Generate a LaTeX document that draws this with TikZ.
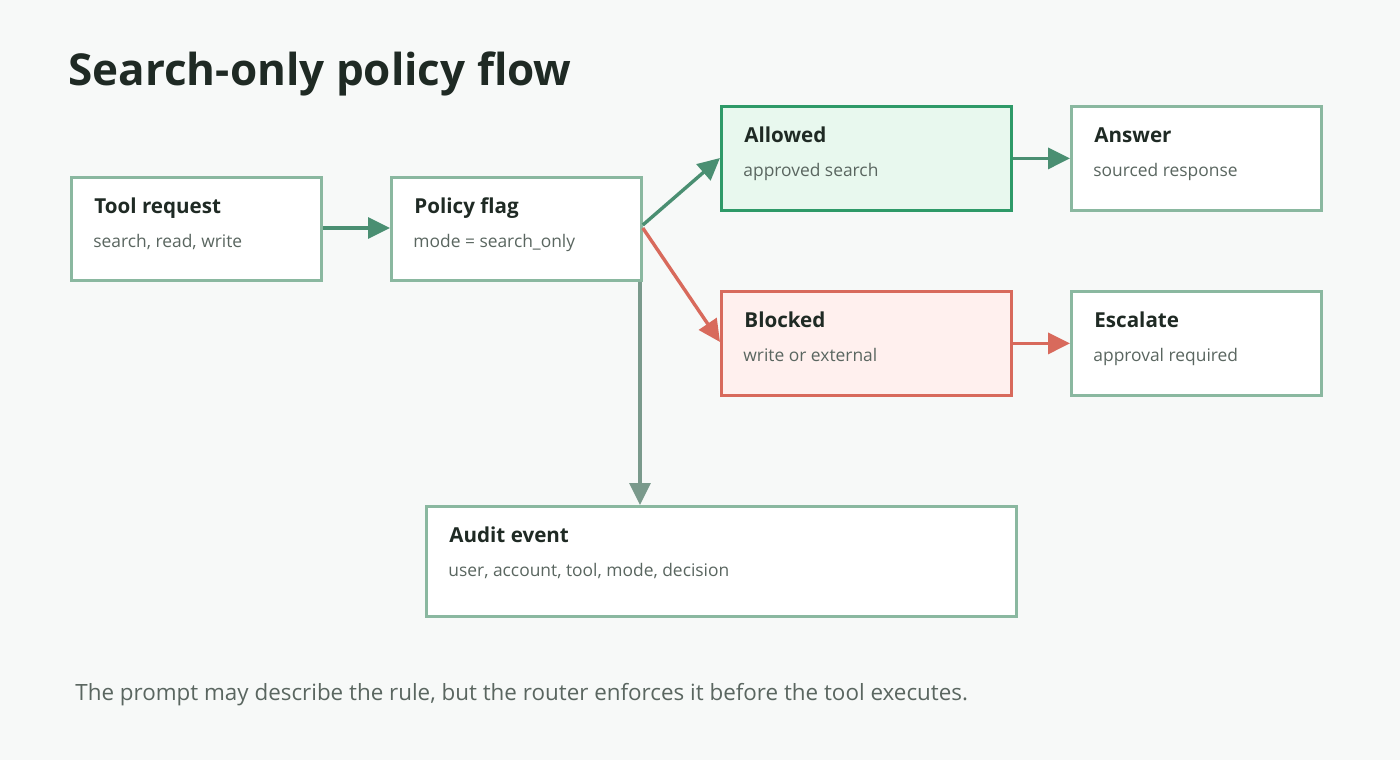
\documentclass[tikz,border=0pt]{standalone}
\usepackage{fontspec}
\setmainfont{Open Sans}
\usetikzlibrary{positioning,arrows.meta}
\definecolor{bgcol}{HTML}{F7F9F8}
\definecolor{boxline}{HTML}{8AB8A0}
\definecolor{okline}{HTML}{2E9A68}
\definecolor{okfill}{HTML}{E8F8EE}
\definecolor{noline}{HTML}{D86A5C}
\definecolor{nofill}{HTML}{FFF0EE}
\definecolor{arrgreen}{HTML}{4A8F72}
\definecolor{arrgray}{HTML}{7A9A8C}
\definecolor{ink}{HTML}{1F2A24}
\definecolor{subink}{HTML}{5A6660}
\tikzset{
  box/.style={draw=boxline, fill=white, line width=1.4pt, anchor=north west,
    minimum width=125pt, minimum height=51.5pt, inner sep=0pt},
  ttl/.style={anchor=base west, font=\bfseries\fontsize{10.3}{12}\selectfont, text=ink, inner sep=0pt},
  sub/.style={anchor=base west, font=\fontsize{8.7}{10}\selectfont, text=subink, inner sep=0pt},
  flow/.style={line width=1.7pt, -{Triangle[length=11pt,width=10.5pt]}}
}
\begin{document}
\begin{tikzpicture}[x=0.5pt,y=-0.5pt]
\fill[bgcol] (0,0) rectangle (1400,760);
\useasboundingbox (0,0) rectangle (1400,760);
\node[anchor=base west, font=\bfseries\fontsize{22}{26}\selectfont, text=ink, inner sep=0pt] (title) at (68,85) {Search-only policy flow};
% boxes
\node[box] (req) at (70,176) {};
\node[box] (flag) at (390,176) {};
\node[box, draw=okline, fill=okfill, minimum width=145pt, minimum height=52pt] (ok) at (720,105) {};
\node[box, minimum height=52pt] (ans) at (1070,105) {};
\node[box, draw=noline, fill=nofill, minimum width=145pt, minimum height=52pt] (no) at (720,290) {};
\node[box, minimum height=52pt] (esc) at (1070,290) {};
\node[box, minimum width=295pt, minimum height=55pt] (audit) at (425,505) {};
% texts
\foreach \b/\t/\s in {req/Tool request/{search, read, write},
  flag/Policy flag/{mode = search\_only},
  ok/Allowed/approved search, ans/Answer/sourced response,
  no/Blocked/write or external, esc/Escalate/approval required,
  audit/Audit event/{user, account, tool, mode, decision}}{
  \node[ttl] (\b-t) at ([shift={(24,37)}]\b.north west) {\t};
  \node[sub] (\b-s) at ([shift={(23,71)}]\b.north west) {\s};
}
% connectors
\draw[flow, arrgreen] (req.east |- 0,228) -- (flag.west |- 0,228);
\draw[flow, arrgreen] (flag.east |- 0,225) -- (ok.west |- 0,158);
\draw[flow, noline] (flag.east |- 0,228) -- (no.west |- 0,342);
\draw[flow, arrgreen] (ok.east) -- (ans.west);
\draw[flow, noline] (no.east) -- (esc.west);
\draw[flow, arrgray] (flag.south -| 640,0) -- (audit.north -| 640,0);
\node[anchor=base west, font=\fontsize{11.2}{13}\selectfont, text=subink, inner sep=0pt] (note) at (75,700)
  {The prompt may describe the rule, but the router enforces it before the tool executes.};
\end{tikzpicture}
\end{document}
